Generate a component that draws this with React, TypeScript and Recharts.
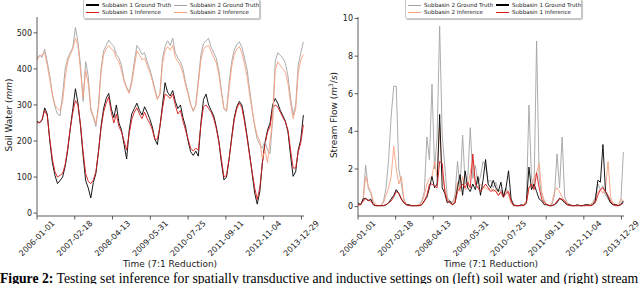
import React from "react";
import { LineChart, Line, XAxis, YAxis } from "recharts";

// weekly series, sampled every 4th week (7:1 reduction already applied)
const STEP = 4;

const tickWeeks = [0, 59, 118, 177, 236, 295, 354, 413];
const tickLabels = ["2006-01-01", "2007-02-18", "2008-04-13", "2009-05-31", "2010-07-25", "2011-09-11", "2012-11-04", "2013-12-29"];

const soil1Truth = [
  255, 250, 258, 292, 275, 200, 140, 105, 82, 90,
  100, 130, 175, 235, 290, 345, 305, 240, 160, 90,
  70, 42, 85, 110, 170, 240, 290, 318, 332, 290,
  265, 300, 250, 230, 190, 150, 230, 275, 290, 305,
  285, 272, 295, 280, 262, 240, 205, 190, 240, 300,
  362, 335, 325, 340, 310, 290, 300, 265, 240, 200,
  170, 160, 172, 158, 250, 315, 330, 300, 285, 270,
  240, 200, 140, 92, 100, 150, 210, 265, 295, 310,
  300, 262, 215, 165, 110, 55, 25, 60, 140, 195,
  230, 250, 300, 318, 305, 285, 270, 255, 225, 160,
  102, 115, 175, 205, 272,
];
const soil1Pred = [
  250, 252, 260, 285, 270, 205, 150, 115, 100, 105,
  110, 135, 180, 235, 280, 312, 300, 245, 170, 110,
  88, 82, 92, 115, 170, 235, 280, 305, 322, 280,
  250, 275, 240, 225, 200, 175, 220, 260, 280, 292,
  275, 262, 280, 262, 250, 232, 205, 205, 240, 290,
  330, 325, 318, 330, 300, 275, 285, 255, 230, 205,
  180, 172, 180, 175, 245, 295, 300, 290, 280, 262,
  235, 198, 150, 100, 105, 150, 205, 258, 290, 305,
  292, 255, 210, 160, 115, 70, 38, 70, 140, 190,
  225, 240, 290, 300, 295, 280, 265, 252, 230, 175,
  125, 125, 170, 195, 245,
];
const soil2Truth = [
  430, 438, 432, 455, 420, 380, 330, 295, 275, 270,
  330, 400, 430, 445, 460, 515, 475, 410, 310, 420,
  380, 285, 265, 240, 300, 400, 450, 465, 480, 470,
  462, 440, 430, 410, 370, 350, 335, 370, 420, 465,
  455, 440, 445, 420, 400, 375, 345, 318, 330, 430,
  462, 478, 465, 485, 445, 430, 420, 400, 362, 335,
  302, 282, 300, 370, 440, 470, 478, 485, 460, 445,
  430, 395, 340, 290, 282, 360, 420, 452, 468, 475,
  460, 430, 400, 345, 290, 240, 205, 190, 180, 200,
  175, 165, 260, 420, 445, 438, 430, 415, 380, 320,
  272, 300, 410, 445, 475,
];
const soil2Pred = [
  425, 435, 440, 445, 410, 370, 330, 300, 290, 285,
  310, 375, 420, 440, 455, 485, 465, 395, 320, 395,
  360, 290, 270, 248, 290, 390, 440, 455, 465, 455,
  450, 430, 420, 395, 365, 345, 332, 360, 405, 450,
  440, 425, 430, 410, 392, 368, 340, 315, 330, 415,
  450, 462, 452, 465, 432, 420, 408, 388, 355, 330,
  300, 285, 300, 360, 425, 455, 462, 465, 448, 432,
  418, 385, 335, 290, 285, 345, 405, 440, 455, 462,
  445, 415, 380, 330, 285, 245, 215, 200, 150, 175,
  140, 200, 260, 395, 420, 410, 400, 390, 360, 305,
  262, 290, 390, 425, 440,
];

const flow2Truth = [
  0.1, 0.1, 0.3, 2.2, 1.0, 0.7, 0.2, 0.05, 0.05, 0.05,
  0.3, 1.0, 2.5, 4.8, 6.4, 6.4, 2.0, 1.2, 0.3, 0.1,
  0.05, 0.05, 0.05, 0.05, 0.1, 0.3, 0.8, 3.7, 2.5, 6.5,
  2.0, 3.7, 9.6, 3.8, 2.2, 0.5, 0.3, 0.2, 0.6, 2.4,
  1.0, 3.8, 1.2, 1.5, 4.2, 1.5, 2.2, 1.2, 1.6, 2.4,
  2.2, 1.3, 1.4, 1.0, 1.3, 0.8, 0.9, 0.6, 1.0, 0.7,
  0.2, 0.05, 0.05, 0.05, 0.05, 0.1, 0.3, 5.4, 1.5, 1.0,
  8.8, 1.5, 0.6, 0.3, 0.1, 0.05, 0.1, 0.6, 2.8, 1.0,
  3.7, 0.5, 0.2, 0.05, 0.05, 0.05, 0.05, 0.05, 0.05, 0.05,
  0.1, 0.1, 0.2, 0.5, 1.2, 0.9, 1.1, 0.6, 0.4, 0.2,
  0.1, 0.05, 0.05, 0.2, 2.9,
];
const flow2Pred = [
  0.1, 0.1, 0.4, 1.6, 1.1, 0.8, 0.3, 0.1, 0.05, 0.05,
  0.2, 0.6, 1.0, 1.6, 3.2, 2.0, 1.2, 1.6, 0.4, 0.1,
  0.05, 0.05, 0.05, 0.05, 0.1, 0.2, 0.6, 1.2, 1.5, 1.6,
  2.4, 1.6, 4.3, 1.8, 1.0, 0.4, 0.2, 0.2, 0.4, 1.3,
  0.8, 1.6, 0.9, 1.0, 1.8, 2.5, 1.3, 1.0, 1.2, 1.0,
  1.0, 0.9, 1.0, 0.8, 0.9, 0.6, 0.7, 0.5, 0.9, 0.6,
  0.2, 0.05, 0.05, 0.05, 0.05, 0.1, 0.3, 1.0, 1.1, 1.5,
  1.8, 2.3, 0.8, 0.3, 0.1, 0.05, 0.2, 0.8, 1.0, 0.8,
  0.5, 0.3, 0.2, 0.1, 0.05, 0.05, 0.05, 0.05, 0.05, 0.05,
  0.1, 0.1, 0.2, 0.4, 0.8, 0.9, 0.7, 1.0, 2.4, 0.5,
  0.2, 0.1, 0.1, 0.4, 0.3,
];
const flow1Truth = [
  0.2, 0.1, 0.4, 0.45, 0.3, 0.4, 0.1, 0.05, 0.05, 0.05,
  0.05, 0.1, 0.2, 0.4, 0.6, 0.9, 0.7, 0.4, 0.2, 0.1,
  0.1, 0.05, 0.05, 0.05, 0.05, 0.1, 0.3, 0.5, 1.0, 1.6,
  1.0, 1.2, 4.9, 1.0, 0.7, 0.2, 0.3, 0.1, 0.2, 1.0,
  1.7, 0.6, 1.9, 1.0, 0.8, 1.2, 0.9, 1.6, 0.6, 1.4,
  2.5, 1.2, 1.0, 1.4, 1.0, 0.8, 1.3, 0.5, 1.0, 1.9,
  0.4, 0.1, 0.05, 0.05, 0.1, 0.05, 0.2, 2.1, 0.9, 1.2,
  0.8, 0.4, 0.3, 0.1, 0.1, 0.05, 0.05, 0.1, 0.2, 0.45,
  0.35, 0.2, 0.1, 0.1, 0.05, 0.05, 0.1, 0.05, 0.05, 0.1,
  0.1, 0.05, 0.1, 0.3, 1.4, 1.3, 3.3, 0.8, 0.5, 0.2,
  0.1, 0.1, 0.05, 0.1, 0.3,
];
const flow1Pred = [
  0.1, 0.1, 0.3, 0.4, 0.35, 0.3, 0.1, 0.05, 0.05, 0.05,
  0.05, 0.1, 0.2, 0.3, 0.5, 0.8, 0.7, 0.4, 0.2, 0.1,
  0.05, 0.05, 0.05, 0.05, 0.05, 0.1, 0.3, 0.6, 1.2, 1.2,
  1.1, 1.0, 2.4, 2.3, 0.8, 0.3, 0.2, 0.1, 0.2, 0.8,
  1.0, 1.2, 1.0, 1.3, 1.0, 2.8, 1.2, 1.0, 0.8, 1.0,
  1.2, 1.0, 0.8, 0.9, 0.8, 0.6, 0.8, 0.5, 0.7, 0.8,
  0.3, 0.05, 0.05, 0.05, 0.05, 0.05, 0.2, 1.0, 1.2, 0.9,
  1.8, 1.0, 0.4, 0.2, 0.1, 0.05, 0.05, 0.1, 0.3, 0.4,
  0.4, 0.3, 0.1, 0.05, 0.05, 0.05, 0.05, 0.05, 0.05, 0.05,
  0.05, 0.05, 0.1, 0.2, 0.6, 0.9, 1.0, 0.8, 0.6, 0.3,
  0.1, 0.05, 0.05, 0.1, 0.2,
];

const soilData = soil1Truth.map((v, i) => ({
  week: i * STEP,
  s1: v,
  s1p: soil1Pred[i],
  s2: soil2Truth[i],
  s2p: soil2Pred[i],
}));

const flowData = flow1Truth.map((v, i) => ({
  week: i * STEP,
  s1: v,
  s1p: flow1Pred[i],
  s2: flow2Truth[i],
  s2p: flow2Pred[i],
}));

const BLACK = "#000000";
const RED = "#d7191c";
const GRAY = "#a3a3a3";
const SALMON = "#f7a080";
const SPINE = "#333";
const FONT = "DejaVu Sans";

function DateTick(props: any) {
  const { x, y, payload } = props;
  const idx = tickWeeks.indexOf(payload.value);
  return (
    <g transform={`translate(${x},${y + 17})`}>
      <text
        transform="rotate(-45)"
        textAnchor="middle"
        dominantBaseline="central"
        fontSize={8}
        fontFamily={FONT}
        fill="#222"
      >
        {tickLabels[idx]}
      </text>
    </g>
  );
}

function LegendBox({ left, items }: { left: number; items: { label: string; color: string; width: number }[] }) {
  return (
    <div
      style={{
        position: "absolute",
        left,
        top: -1,
        width: 175,
        height: 18,
        border: "1px solid #c8c8c8",
        borderRadius: 2,
        background: "rgba(255,255,255,0.9)",
        boxShadow: "1px 1px 1px rgba(0,0,0,0.25)",
        fontFamily: FONT,
        fontSize: 5.6,
        color: "#222",
      }}
    >
      {items.map((it, i) => {
        const col = Math.floor(i / 2);
        const row = i % 2;
        return (
          <div
            key={it.label}
            style={{
              position: "absolute",
              left: 2 + col * 88,
              top: row === 0 ? 1.5 : 8.8,
              height: 7,
              display: "flex",
              alignItems: "center",
              whiteSpace: "nowrap",
            }}
          >
            <span style={{ display: "inline-block", width: 13, height: it.width, background: it.color, marginRight: 3 }} />
            <span>{it.label}</span>
          </div>
        );
      })}
    </div>
  );
}

function Panel({
  left,
  data,
  domain,
  ticks,
  order,
}: {
  left: number;
  data: any[];
  domain: [number, number];
  ticks: number[];
  order: { key: string; color: string }[];
}) {
  return (
    <div style={{ position: "absolute", left, top: 0 }}>
      <LineChart width={320} height={284} data={data} margin={{ top: 17, right: 16, bottom: 18, left: 0 }}>
        <XAxis
          dataKey="week"
          type="number"
          domain={[0, 417]}
          ticks={tickWeeks}
          interval={0}
          tick={<DateTick />}
          tickSize={3.5}
          tickLine={{ stroke: SPINE, strokeWidth: 0.8 }}
          axisLine={{ stroke: SPINE, strokeWidth: 0.8 }}
          height={50}
        />
        <XAxis
          xAxisId="top"
          orientation="top"
          type="number"
          domain={[0, 417]}
          tick={false}
          tickLine={false}
          axisLine={{ stroke: SPINE, strokeWidth: 0.8 }}
          height={0}
        />
        <YAxis
          type="number"
          domain={domain}
          ticks={ticks}
          interval={0}
          allowDataOverflow
          width={left === 0 ? 37 : 38}
          tickSize={3.5}
          tickMargin={1.5}
          tick={{ fontSize: 8, fontFamily: FONT, fill: "#222" }}
          tickLine={{ stroke: SPINE, strokeWidth: 0.8 }}
          axisLine={{ stroke: SPINE, strokeWidth: 0.8 }}
        />
        <YAxis
          yAxisId="right"
          orientation="right"
          type="number"
          domain={[0, 1]}
          tick={false}
          tickLine={false}
          axisLine={{ stroke: SPINE, strokeWidth: 0.8 }}
          width={0}
        />
        {order.map((s) => (
          <Line
            key={s.key}
            dataKey={s.key}
            type="linear"
            stroke={s.color}
            strokeWidth={0.9}
            dot={false}
            isAnimationActive={false}
          />
        ))}
      </LineChart>
    </div>
  );
}

export default function App() {
  return (
    <div style={{ position: "absolute", left: 0, top: 0, width: 640, height: 284, background: "#fff", overflow: "hidden" }}>
      <Panel
        left={0}
        data={soilData}
        domain={[-8, 544]}
        ticks={[0, 100, 200, 300, 400, 500]}
        order={[
          { key: "s1", color: BLACK },
          { key: "s1p", color: RED },
          { key: "s2", color: GRAY },
          { key: "s2p", color: SALMON },
        ]}
      />
      <Panel
        left={320}
        data={flowData}
        domain={[-0.5, 10.08]}
        ticks={[0, 2, 4, 6, 8, 10]}
        order={[
          { key: "s2", color: GRAY },
          { key: "s2p", color: SALMON },
          { key: "s1", color: BLACK },
          { key: "s1p", color: RED },
        ]}
      />

      <LegendBox
        left={83}
        items={[
          { label: "Subbasin 1 Ground Truth", color: BLACK, width: 1.5 },
          { label: "Subbasin 1 Inference", color: RED, width: 1 },
          { label: "Subbasin 2 Ground Truth", color: GRAY, width: 1 },
          { label: "Subbasin 2 Inference", color: SALMON, width: 1 },
        ]}
      />
      <LegendBox
        left={405}
        items={[
          { label: "Subbasin 2 Ground Truth", color: GRAY, width: 1 },
          { label: "Subbasin 2 Inference", color: SALMON, width: 1 },
          { label: "Subbasin 1 Ground Truth", color: BLACK, width: 1.5 },
          { label: "Subbasin 1 Inference", color: RED, width: 1 },
        ]}
      />

      <div style={{ position: "absolute", left: 9, top: 115, transform: "translate(-50%,-50%) rotate(-90deg)", fontFamily: FONT, fontSize: 9, color: "#222", whiteSpace: "nowrap" }}>
        Soil Water (<i>mm</i>)
      </div>
      <div style={{ position: "absolute", left: 333, top: 115, transform: "translate(-50%,-50%) rotate(-90deg)", fontFamily: FONT, fontSize: 9, color: "#222", whiteSpace: "nowrap" }}>
        Stream Flow (<i>m</i><sup style={{ fontSize: 6 }}>3</sup>/<i>s</i>)
      </div>
      <div style={{ position: "absolute", left: 170, top: 264, transform: "translate(-50%,-50%)", fontFamily: FONT, fontSize: 9, color: "#222", whiteSpace: "nowrap" }}>
        Time (7:1 Reduction)
      </div>
      <div style={{ position: "absolute", left: 491, top: 264, transform: "translate(-50%,-50%)", fontFamily: FONT, fontSize: 9, color: "#222", whiteSpace: "nowrap" }}>
        Time (7:1 Reduction)
      </div>
      <div style={{ position: "absolute", left: 0, top: 271, fontFamily: "Liberation Serif", fontSize: 13.7, color: "#000", whiteSpace: "nowrap", lineHeight: "15px" }}>
        <b>Figure 2:</b> Testing set inference for spatially transductive and inductive settings on (left) soil water and (right) stream
      </div>
    </div>
  );
}
